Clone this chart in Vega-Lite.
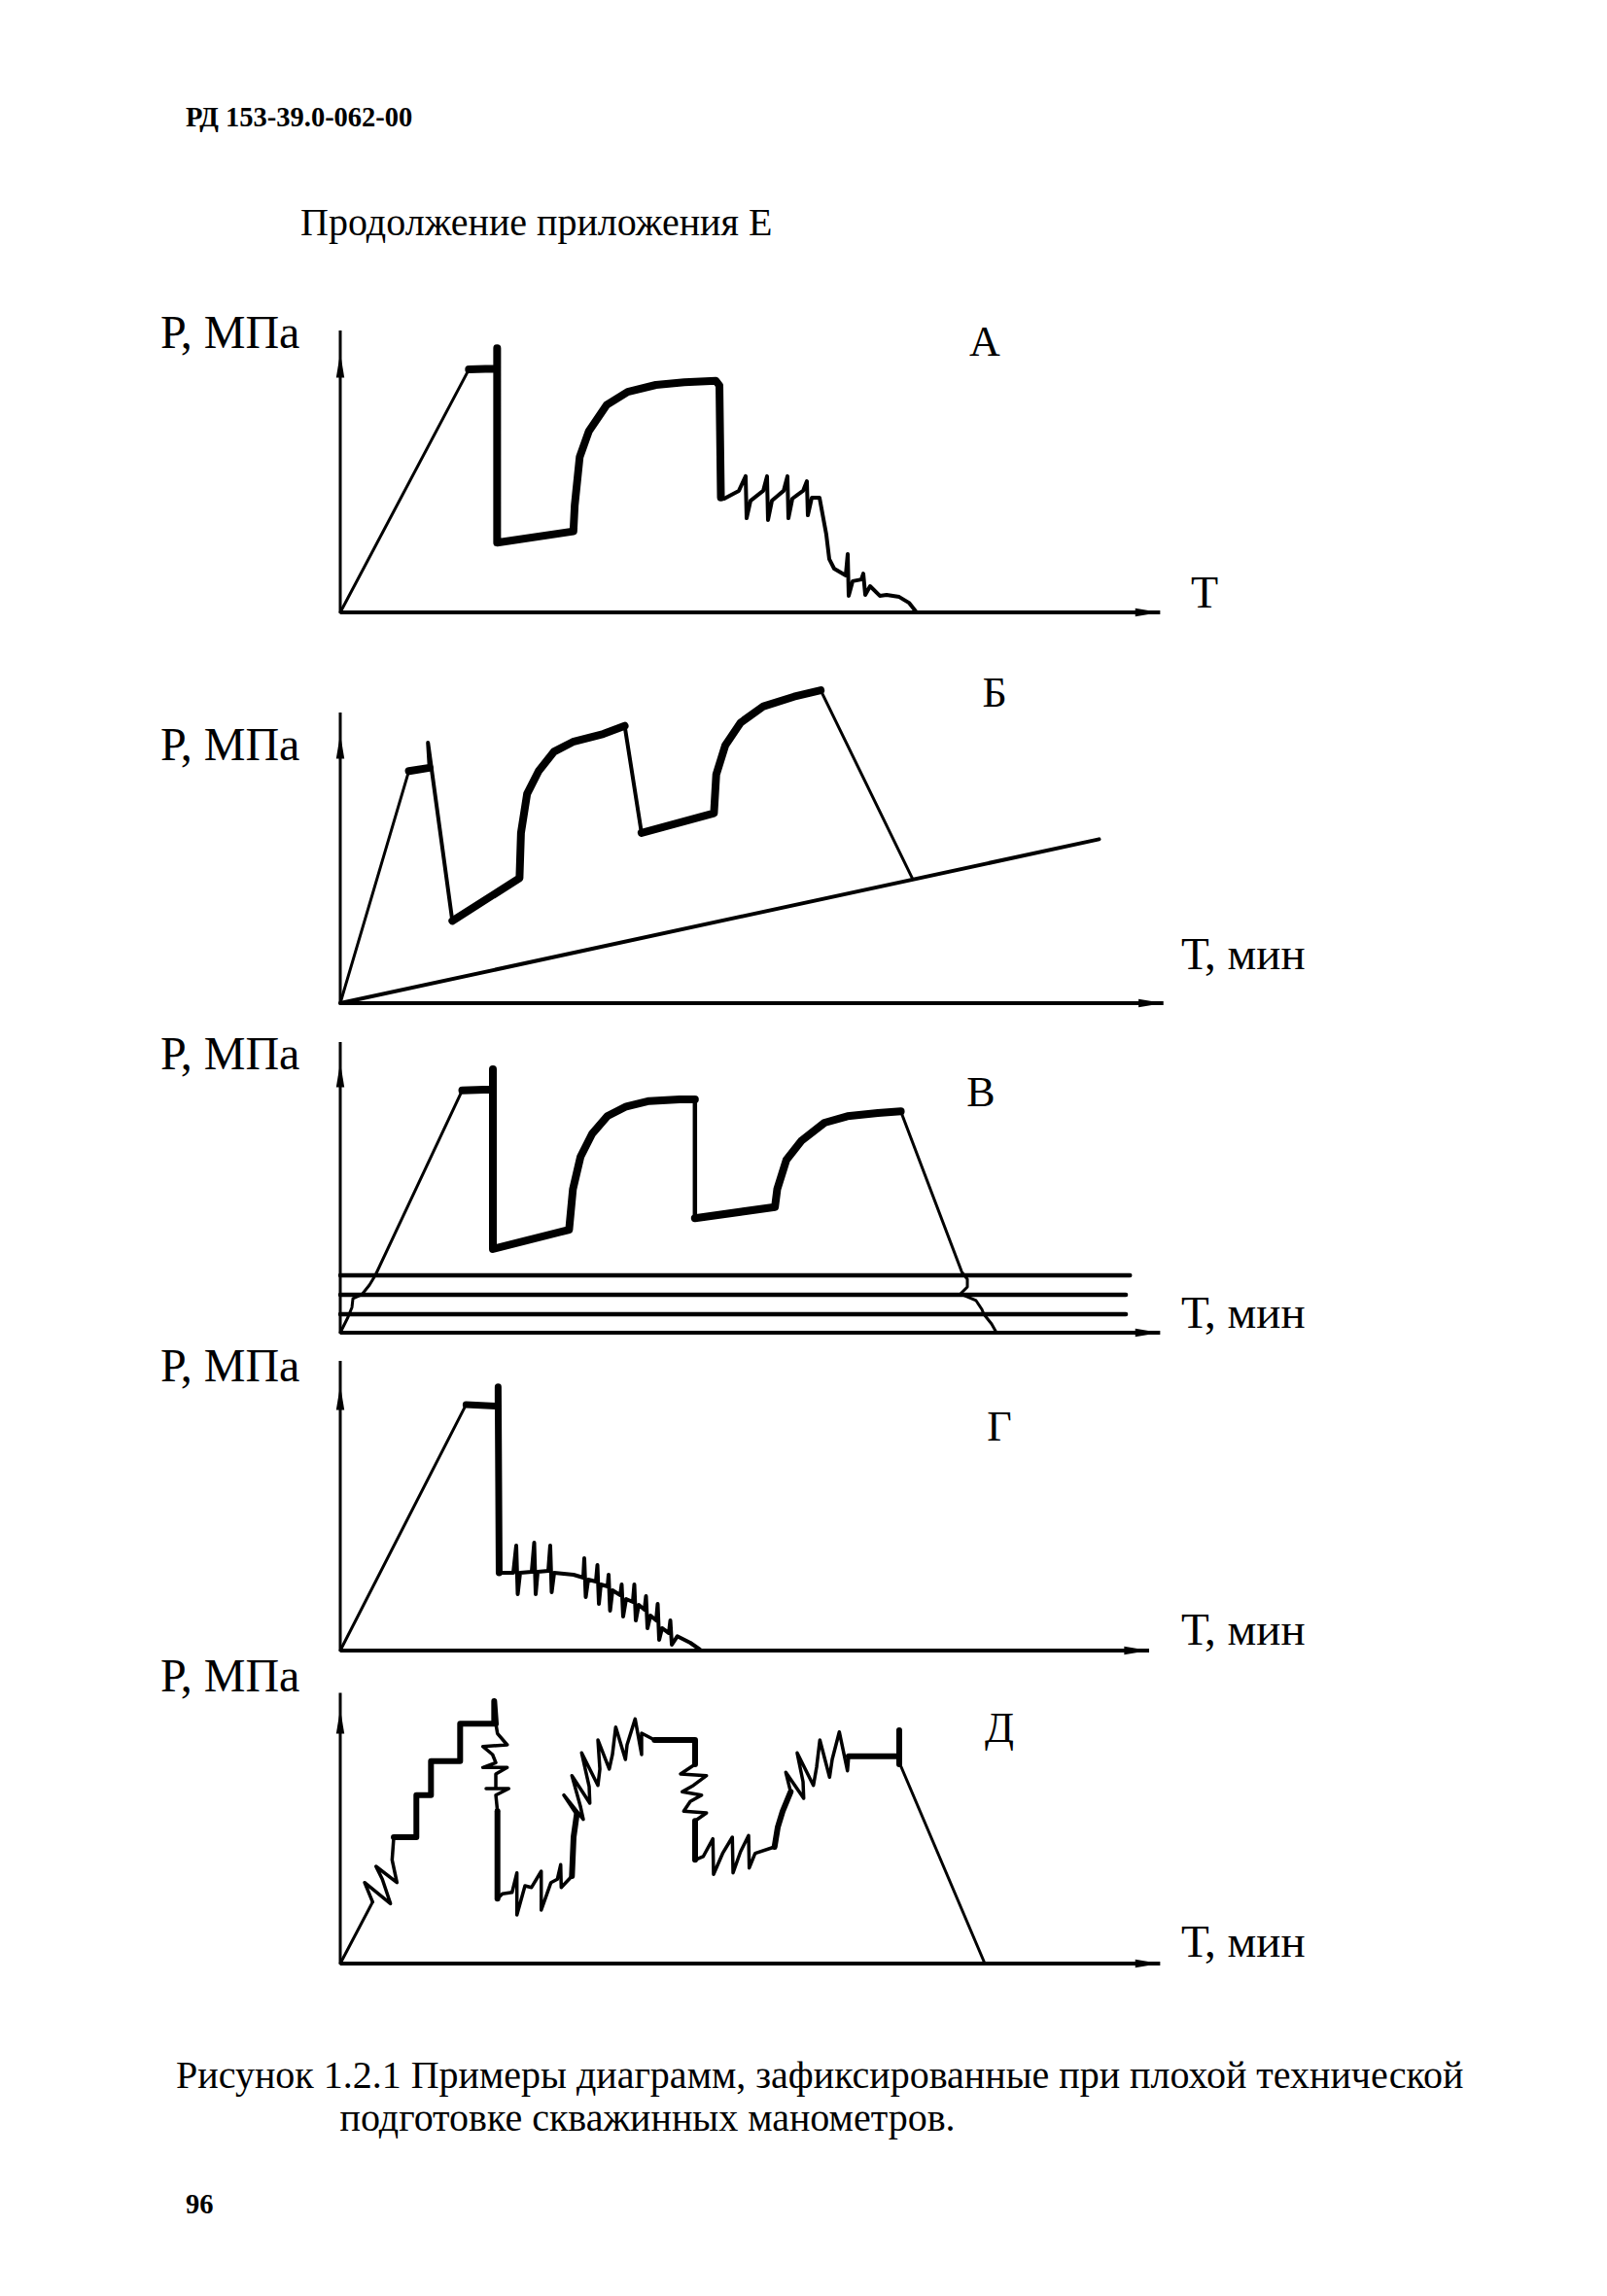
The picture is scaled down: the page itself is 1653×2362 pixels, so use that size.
{
"$schema": "https://vega.github.io/schema/vega-lite/v6.json",
"padding": 0,
"spacing": 0,
"bounds": "flush",
"background": "white",
"config": {"view": {"stroke": null}, "font": "Liberation Serif"},
"datasets": {
"curves": [
{"seg":"A1","i":0,"T":0,"P":0},{"seg":"A1","i":1,"T":15.75,"P":83.3},
{"seg":"A2","i":0,"T":15.75,"P":83.3},{"seg":"A2","i":1,"T":18.77,"P":83.6},{"seg":"A2","i":2,"T":19.21,"P":83.6},{"seg":"A2","i":3,"T":19.21,"P":90.6},{"seg":"A2","i":4,"T":19.21,"P":23.9},{"seg":"A2","i":5,"T":28.55,"P":27.8},{"seg":"A2","i":6,"T":28.71,"P":36.7},{"seg":"A2","i":7,"T":29.32,"P":53.3},{"seg":"A2","i":8,"T":30.45,"P":62.2},{"seg":"A2","i":9,"T":32.61,"P":71.1},{"seg":"A2","i":10,"T":35.2,"P":75.6},{"seg":"A2","i":11,"T":38.65,"P":78},{"seg":"A2","i":12,"T":42.12,"P":78.9},{"seg":"A2","i":13,"T":46,"P":79.4},{"seg":"A2","i":14,"T":46.43,"P":77.8},{"seg":"A2","i":15,"T":46.61,"P":39.4},
{"seg":"A3","i":0,"T":46.61,"P":39.4},{"seg":"A3","i":1,"T":47.02,"P":39},{"seg":"A3","i":2,"T":48.81,"P":41.7},{"seg":"A3","i":3,"T":49.64,"P":46.7},{"seg":"A3","i":4,"T":49.76,"P":32.3},{"seg":"A3","i":5,"T":50.24,"P":38.3},{"seg":"A3","i":6,"T":51.79,"P":41.7},{"seg":"A3","i":7,"T":52.26,"P":46.7},{"seg":"A3","i":8,"T":52.38,"P":31.7},{"seg":"A3","i":9,"T":52.86,"P":38.3},{"seg":"A3","i":10,"T":54.29,"P":41.7},{"seg":"A3","i":11,"T":54.76,"P":46.7},{"seg":"A3","i":12,"T":54.88,"P":32.3},{"seg":"A3","i":13,"T":55.36,"P":39},{"seg":"A3","i":14,"T":56.67,"P":41.7},{"seg":"A3","i":15,"T":57.14,"P":45},{"seg":"A3","i":16,"T":57.26,"P":33.3},{"seg":"A3","i":17,"T":57.74,"P":39.3},{"seg":"A3","i":18,"T":58.69,"P":39.3},{"seg":"A3","i":19,"T":59.52,"P":26.7},{"seg":"A3","i":20,"T":59.88,"P":18.3},{"seg":"A3","i":21,"T":60.48,"P":15},{"seg":"A3","i":22,"T":61.9,"P":12.7},{"seg":"A3","i":23,"T":62.14,"P":20},{"seg":"A3","i":24,"T":62.26,"P":5.7},{"seg":"A3","i":25,"T":62.74,"P":10.7},{"seg":"A3","i":26,"T":63.81,"P":11.3},{"seg":"A3","i":27,"T":64.05,"P":13.3},{"seg":"A3","i":28,"T":64.29,"P":6},{"seg":"A3","i":29,"T":64.88,"P":9},{"seg":"A3","i":30,"T":66.07,"P":5.7},{"seg":"A3","i":31,"T":66.9,"P":6},{"seg":"A3","i":32,"T":68.45,"P":5.3},{"seg":"A3","i":33,"T":69.64,"P":3.3},{"seg":"A3","i":34,"T":70.48,"P":0.3},
{"seg":"B1","i":0,"T":0,"P":0},{"seg":"B1","i":1,"T":8.4,"P":79.6},
{"seg":"B2","i":0,"T":8.4,"P":79.6},{"seg":"B2","i":1,"T":10.93,"P":80.7},
{"seg":"B3","i":0,"T":10.93,"P":80.7},{"seg":"B3","i":1,"T":10.74,"P":89.3},{"seg":"B3","i":2,"T":13.73,"P":28.2},
{"seg":"B4","i":0,"T":13.73,"P":28.2},{"seg":"B4","i":1,"T":21.95,"P":42.9},{"seg":"B4","i":2,"T":22.13,"P":58.4},{"seg":"B4","i":3,"T":22.88,"P":71.8},{"seg":"B4","i":4,"T":24.29,"P":79.6},{"seg":"B4","i":5,"T":26.15,"P":86.2},{"seg":"B4","i":6,"T":28.49,"P":89.6},{"seg":"B4","i":7,"T":32.21,"P":92.3},{"seg":"B4","i":8,"T":34.83,"P":95.1},
{"seg":"B5","i":0,"T":34.83,"P":95.1},{"seg":"B5","i":1,"T":36.89,"P":58.4},
{"seg":"B6","i":0,"T":36.89,"P":58.4},{"seg":"B6","i":1,"T":45.76,"P":65.1},{"seg":"B6","i":2,"T":46.04,"P":78.4},{"seg":"B6","i":3,"T":47.15,"P":88.4},{"seg":"B6","i":4,"T":49.02,"P":96.2},{"seg":"B6","i":5,"T":51.83,"P":101.8},{"seg":"B6","i":6,"T":55.56,"P":105.1},{"seg":"B6","i":7,"T":58.83,"P":107.3},
{"seg":"B7","i":0,"T":58.83,"P":107.3},{"seg":"B7","i":1,"T":70.04,"P":42.9},
{"seg":"B8","i":0,"T":0,"P":0},{"seg":"B8","i":1,"T":92.92,"P":56.2},
{"seg":"V1","i":0,"T":0,"P":0},{"seg":"V1","i":1,"T":0.95,"P":5.33},{"seg":"V1","i":2,"T":1.43,"P":8.67},{"seg":"V1","i":3,"T":1.55,"P":11.67},{"seg":"V1","i":4,"T":2.62,"P":13},{"seg":"V1","i":5,"T":3.57,"P":16.33},{"seg":"V1","i":6,"T":4.29,"P":19.67},{"seg":"V1","i":7,"T":14.94,"P":83.1},
{"seg":"V2","i":0,"T":14.94,"P":83.1},{"seg":"V2","i":1,"T":18.45,"P":83.4},{"seg":"V2","i":2,"T":18.69,"P":83.4},{"seg":"V2","i":3,"T":18.69,"P":90.33},{"seg":"V2","i":4,"T":18.69,"P":28.67},{"seg":"V2","i":5,"T":28.02,"P":35.33},{"seg":"V2","i":6,"T":28.49,"P":49.23},{"seg":"V2","i":7,"T":29.42,"P":60.33},{"seg":"V2","i":8,"T":30.82,"P":68.1},{"seg":"V2","i":9,"T":32.69,"P":74.23},{"seg":"V2","i":10,"T":35.02,"P":77.57},{"seg":"V2","i":11,"T":37.82,"P":79.43},{"seg":"V2","i":12,"T":41.56,"P":80},{"seg":"V2","i":13,"T":43.43,"P":80},
{"seg":"V3","i":0,"T":43.43,"P":80},{"seg":"V3","i":1,"T":43.43,"P":39.23},
{"seg":"V4","i":0,"T":43.43,"P":39.23},{"seg":"V4","i":1,"T":53.23,"P":43.1},{"seg":"V4","i":2,"T":53.51,"P":49.23},{"seg":"V4","i":3,"T":54.63,"P":59.23},{"seg":"V4","i":4,"T":56.5,"P":65.9},{"seg":"V4","i":5,"T":59.3,"P":72},{"seg":"V4","i":6,"T":62.1,"P":74.23},{"seg":"V4","i":7,"T":65.83,"P":75.33},{"seg":"V4","i":8,"T":68.64,"P":75.9},
{"seg":"V5","i":0,"T":68.64,"P":75.9},{"seg":"V5","i":1,"T":76.1,"P":20.9},{"seg":"V5","i":2,"T":76.79,"P":18.33},{"seg":"V5","i":3,"T":76.79,"P":15.67},{"seg":"V5","i":4,"T":75.95,"P":13.33},{"seg":"V5","i":5,"T":77.86,"P":11},{"seg":"V5","i":6,"T":78.57,"P":8},{"seg":"V5","i":7,"T":78.81,"P":6.33},{"seg":"V5","i":8,"T":79.76,"P":3},{"seg":"V5","i":9,"T":80.36,"P":0},
{"seg":"V6","i":0,"T":0,"P":19.67},{"seg":"V6","i":1,"T":96.7,"P":19.67},
{"seg":"V7","i":0,"T":0,"P":13},{"seg":"V7","i":1,"T":96.2,"P":13},
{"seg":"V8","i":0,"T":0,"P":6.33},{"seg":"V8","i":1,"T":96.2,"P":6.33},
{"seg":"G1","i":0,"T":0,"P":0},{"seg":"G1","i":1,"T":15.4,"P":84.3},
{"seg":"G2","i":0,"T":15.4,"P":84.3},{"seg":"G2","i":1,"T":19.14,"P":83.8},{"seg":"G2","i":2,"T":19.33,"P":83.8},{"seg":"G2","i":3,"T":19.33,"P":90.4},{"seg":"G2","i":4,"T":19.46,"P":26.7},
{"seg":"G3","i":0,"T":19.46,"P":26.7},{"seg":"G3","i":1,"T":21.19,"P":26.67},{"seg":"G3","i":2,"T":21.55,"P":36},{"seg":"G3","i":3,"T":21.73,"P":19.33},{"seg":"G3","i":4,"T":22.02,"P":26.67},{"seg":"G3","i":5,"T":23.45,"P":27},{"seg":"G3","i":6,"T":23.75,"P":37},{"seg":"G3","i":7,"T":23.93,"P":19.33},{"seg":"G3","i":8,"T":24.17,"P":27},{"seg":"G3","i":9,"T":25.48,"P":27.33},{"seg":"G3","i":10,"T":25.71,"P":36},{"seg":"G3","i":11,"T":25.89,"P":20},{"seg":"G3","i":12,"T":26.19,"P":26.67},{"seg":"G3","i":13,"T":28.57,"P":26},{"seg":"G3","i":14,"T":29.76,"P":25},{"seg":"G3","i":15,"T":29.88,"P":31.67},{"seg":"G3","i":16,"T":30.06,"P":18.33},{"seg":"G3","i":17,"T":30.36,"P":24.33},{"seg":"G3","i":18,"T":31.31,"P":23.67},{"seg":"G3","i":19,"T":31.49,"P":29.33},{"seg":"G3","i":20,"T":31.67,"P":16},{"seg":"G3","i":21,"T":31.9,"P":22.67},{"seg":"G3","i":22,"T":32.74,"P":22},{"seg":"G3","i":23,"T":32.86,"P":26},{"seg":"G3","i":24,"T":33.04,"P":13.67},{"seg":"G3","i":25,"T":33.33,"P":20.67},{"seg":"G3","i":26,"T":34.29,"P":19},{"seg":"G3","i":27,"T":34.46,"P":22.67},{"seg":"G3","i":28,"T":34.64,"P":11.67},{"seg":"G3","i":29,"T":35,"P":17.67},{"seg":"G3","i":30,"T":35.83,"P":16.67},{"seg":"G3","i":31,"T":36.01,"P":22.67},{"seg":"G3","i":32,"T":36.19,"P":10.33},{"seg":"G3","i":33,"T":36.55,"P":15.67},{"seg":"G3","i":34,"T":37.26,"P":14},{"seg":"G3","i":35,"T":37.44,"P":18.67},{"seg":"G3","i":36,"T":37.62,"P":7.67},{"seg":"G3","i":37,"T":37.98,"P":12},{"seg":"G3","i":38,"T":38.69,"P":10.33},{"seg":"G3","i":39,"T":38.87,"P":16},{"seg":"G3","i":40,"T":39.05,"P":3.67},{"seg":"G3","i":41,"T":39.4,"P":7.67},{"seg":"G3","i":42,"T":40.24,"P":6},{"seg":"G3","i":43,"T":40.42,"P":10.33},{"seg":"G3","i":44,"T":40.6,"P":2},{"seg":"G3","i":45,"T":41.27,"P":4.9},{"seg":"G3","i":46,"T":42.86,"P":2.67},{"seg":"G3","i":47,"T":44.05,"P":0.33},
{"seg":"D1","i":0,"T":0,"P":0},{"seg":"D1","i":1,"T":3.96,"P":21.1},
{"seg":"D2","i":0,"T":3.96,"P":21.1},{"seg":"D2","i":1,"T":2.98,"P":27.77},{"seg":"D2","i":2,"T":6.15,"P":20.57},{"seg":"D2","i":3,"T":5.15,"P":28.9},{"seg":"D2","i":4,"T":4.37,"P":33.33},{"seg":"D2","i":5,"T":6.94,"P":27.77},{"seg":"D2","i":6,"T":6.35,"P":35.57},{"seg":"D2","i":7,"T":6.55,"P":43.33},
{"seg":"D3","i":0,"T":6.55,"P":43.33},{"seg":"D3","i":1,"T":9.32,"P":43.33},{"seg":"D3","i":2,"T":9.32,"P":57.77},{"seg":"D3","i":3,"T":11.11,"P":57.77},{"seg":"D3","i":4,"T":11.11,"P":69.43},{"seg":"D3","i":5,"T":14.68,"P":69.43},{"seg":"D3","i":6,"T":14.68,"P":82.23},{"seg":"D3","i":7,"T":18.85,"P":82.23},{"seg":"D3","i":8,"T":18.85,"P":90},{"seg":"D3","i":9,"T":19.05,"P":82.23},
{"seg":"D4","i":0,"T":19.05,"P":82.23},{"seg":"D4","i":1,"T":19.25,"P":78.9},{"seg":"D4","i":2,"T":20.44,"P":75},{"seg":"D4","i":3,"T":17.46,"P":74.43},{"seg":"D4","i":4,"T":18.65,"P":71.67},{"seg":"D4","i":5,"T":19.05,"P":68.9},{"seg":"D4","i":6,"T":17.46,"P":67.23},{"seg":"D4","i":7,"T":20.44,"P":67.23},{"seg":"D4","i":8,"T":19.05,"P":65},{"seg":"D4","i":9,"T":19.05,"P":60},{"seg":"D4","i":10,"T":17.86,"P":60},{"seg":"D4","i":11,"T":20.63,"P":60},{"seg":"D4","i":12,"T":19.05,"P":57.77},{"seg":"D4","i":13,"T":19.25,"P":52.23},
{"seg":"D5","i":0,"T":19.25,"P":52.23},{"seg":"D5","i":1,"T":19.25,"P":22.23},
{"seg":"D6","i":0,"T":19.25,"P":22.23},{"seg":"D6","i":1,"T":19.85,"P":23.9},{"seg":"D6","i":2,"T":21.04,"P":24.43},{"seg":"D6","i":3,"T":21.63,"P":31.1},{"seg":"D6","i":4,"T":21.63,"P":16.67},{"seg":"D6","i":5,"T":22.62,"P":26.67},{"seg":"D6","i":6,"T":23.42,"P":26.1},{"seg":"D6","i":7,"T":24.61,"P":31.67},{"seg":"D6","i":8,"T":24.61,"P":18.33},{"seg":"D6","i":9,"T":25.8,"P":27.77},{"seg":"D6","i":10,"T":26.58,"P":28.9},{"seg":"D6","i":11,"T":26.99,"P":33.9},{"seg":"D6","i":12,"T":27.06,"P":26.1},{"seg":"D6","i":13,"T":28.37,"P":30},
{"seg":"D7","i":0,"T":28.37,"P":30},{"seg":"D7","i":1,"T":28.57,"P":43.33},{"seg":"D7","i":2,"T":28.96,"P":51.1},
{"seg":"D8","i":0,"T":28.96,"P":51.1},{"seg":"D8","i":1,"T":27.38,"P":57.77},{"seg":"D8","i":2,"T":29.76,"P":49.43},{"seg":"D8","i":3,"T":29.4,"P":54},{"seg":"D8","i":4,"T":28.37,"P":64.43},{"seg":"D8","i":5,"T":30.56,"P":55},{"seg":"D8","i":6,"T":30.48,"P":60.67},{"seg":"D8","i":7,"T":29.56,"P":72.23},{"seg":"D8","i":8,"T":31.55,"P":61.1},{"seg":"D8","i":9,"T":31.79,"P":66.67},{"seg":"D8","i":10,"T":31.55,"P":76.67},{"seg":"D8","i":11,"T":32.94,"P":66.67},{"seg":"D8","i":12,"T":33.33,"P":71.67},{"seg":"D8","i":13,"T":33.73,"P":81.1},{"seg":"D8","i":14,"T":34.92,"P":70},{"seg":"D8","i":15,"T":35.12,"P":75},{"seg":"D8","i":16,"T":36.11,"P":83.9},{"seg":"D8","i":17,"T":36.9,"P":71.67},{"seg":"D8","i":18,"T":36.9,"P":79},{"seg":"D8","i":19,"T":38.49,"P":76.67},
{"seg":"D9","i":0,"T":38.49,"P":76.67},{"seg":"D9","i":1,"T":43.45,"P":76.67},{"seg":"D9","i":2,"T":43.45,"P":68.33},
{"seg":"D10","i":0,"T":43.45,"P":68.33},{"seg":"D10","i":1,"T":41.67,"P":65},{"seg":"D10","i":2,"T":44.85,"P":64.43},{"seg":"D10","i":3,"T":43.25,"P":61.1},{"seg":"D10","i":4,"T":41.87,"P":58.9},{"seg":"D10","i":5,"T":44.25,"P":57.77},{"seg":"D10","i":6,"T":42.86,"P":55.57},{"seg":"D10","i":7,"T":42.06,"P":52.23},{"seg":"D10","i":8,"T":44.85,"P":51.67},{"seg":"D10","i":9,"T":43.45,"P":48.9},
{"seg":"D11","i":0,"T":43.45,"P":48.9},{"seg":"D11","i":1,"T":43.45,"P":35.57},
{"seg":"D12","i":0,"T":43.45,"P":35.57},{"seg":"D12","i":1,"T":44.44,"P":36.67},{"seg":"D12","i":2,"T":45.63,"P":42.77},{"seg":"D12","i":3,"T":45.71,"P":30.57},{"seg":"D12","i":4,"T":46.82,"P":37.77},{"seg":"D12","i":5,"T":48.01,"P":43.33},{"seg":"D12","i":6,"T":48.1,"P":31.1},{"seg":"D12","i":7,"T":49.01,"P":38.33},{"seg":"D12","i":8,"T":50,"P":43.9},{"seg":"D12","i":9,"T":50.08,"P":32.77},{"seg":"D12","i":10,"T":50.8,"P":37.77},{"seg":"D12","i":11,"T":53.18,"P":40},
{"seg":"D13","i":0,"T":53.18,"P":40},{"seg":"D13","i":1,"T":53.57,"P":46.67},{"seg":"D13","i":2,"T":54.17,"P":52.23},{"seg":"D13","i":3,"T":55.15,"P":58.9},
{"seg":"D14","i":0,"T":55.15,"P":58.9},{"seg":"D14","i":1,"T":54.56,"P":65.57},{"seg":"D14","i":2,"T":56.75,"P":56.67},{"seg":"D14","i":3,"T":56.67,"P":62.33},{"seg":"D14","i":4,"T":55.95,"P":72.23},{"seg":"D14","i":5,"T":57.94,"P":61.1},{"seg":"D14","i":6,"T":58.33,"P":67.33},{"seg":"D14","i":7,"T":58.73,"P":76.67},{"seg":"D14","i":8,"T":59.92,"P":63.9},{"seg":"D14","i":9,"T":60.24,"P":70},{"seg":"D14","i":10,"T":61.11,"P":79.43},{"seg":"D14","i":11,"T":62.11,"P":66.1},{"seg":"D14","i":12,"T":62.26,"P":71.1},
{"seg":"D15","i":0,"T":62.26,"P":71.1},{"seg":"D15","i":1,"T":68.25,"P":71.1},{"seg":"D15","i":2,"T":68.45,"P":71.1},{"seg":"D15","i":3,"T":68.45,"P":80},{"seg":"D15","i":4,"T":68.45,"P":68.33},
{"seg":"D16","i":0,"T":68.45,"P":69},{"seg":"D16","i":1,"T":78.93,"P":0}
]
},
"vconcat": [
{
"width": 1653, "height": 290,
"data": {"values": [{}]},
"layer": [
{"mark": {"type": "text", "text": "РД 153-39.0-062-00", "font": "Liberation Serif", "fontWeight": "bold", "fontSize": 28.5, "align": "left", "baseline": "alphabetic", "color": "black"},
 "encoding": {"x": {"datum": 11.55, "type": "quantitative", "scale": {"domain": [0, 100], "nice": false, "zero": false}, "axis": null}, "y": {"datum": 55.17, "type": "quantitative", "scale": {"domain": [0, 100], "nice": false, "zero": false}, "axis": null}}},
{"mark": {"type": "text", "text": "Продолжение приложения Е", "font": "Liberation Serif", "fontSize": 40, "align": "left", "baseline": "alphabetic", "color": "black"},
 "encoding": {"x": {"datum": 18.7, "type": "quantitative", "scale": {"domain": [0, 100], "nice": false, "zero": false}, "axis": null}, "y": {"datum": 16.55, "type": "quantitative", "scale": {"domain": [0, 100], "nice": false, "zero": false}, "axis": null}}}
]
},
{
"width": 1653, "height": 375,
"layer": [
{"data": {"name": "curves"}, "transform": [{"filter": {"field": "seg", "oneOf": ["A1"]}}],
 "mark": {"type": "line", "strokeWidth": 3, "color": "black", "strokeCap": "round", "strokeJoin": "round"},
 "encoding": {"x": {"field": "T", "type": "quantitative", "scale": {"domain": [-41.667, 155.119], "nice": false, "zero": false}, "axis": null}, "y": {"field": "P", "type": "quantitative", "scale": {"domain": [-11.667, 113.333], "nice": false, "zero": false}, "axis": null}, "detail": {"field": "seg"}, "order": {"field": "i", "type": "quantitative"}}},
{"data": {"name": "curves"}, "transform": [{"filter": {"field": "seg", "oneOf": ["A3"]}}],
 "mark": {"type": "line", "strokeWidth": 4, "color": "black", "strokeCap": "round", "strokeJoin": "round"},
 "encoding": {"x": {"field": "T", "type": "quantitative", "scale": {"domain": [-41.667, 155.119], "nice": false, "zero": false}, "axis": null}, "y": {"field": "P", "type": "quantitative", "scale": {"domain": [-11.667, 113.333], "nice": false, "zero": false}, "axis": null}, "detail": {"field": "seg"}, "order": {"field": "i", "type": "quantitative"}}},
{"data": {"name": "curves"}, "transform": [{"filter": {"field": "seg", "oneOf": ["A2"]}}],
 "mark": {"type": "line", "strokeWidth": 8, "color": "black", "strokeCap": "round", "strokeJoin": "round"},
 "encoding": {"x": {"field": "T", "type": "quantitative", "scale": {"domain": [-41.667, 155.119], "nice": false, "zero": false}, "axis": null}, "y": {"field": "P", "type": "quantitative", "scale": {"domain": [-11.667, 113.333], "nice": false, "zero": false}, "axis": null}, "detail": {"field": "seg"}, "order": {"field": "i", "type": "quantitative"}}},
{"data": {"values": [{}]}, "mark": {"type": "rule", "strokeWidth": 3, "color": "black"},
 "encoding": {"x": {"datum": 0, "type": "quantitative", "scale": {"domain": [-41.667, 155.119], "nice": false, "zero": false}, "axis": null}, "y": {"datum": 0, "type": "quantitative", "scale": {"domain": [-11.667, 113.333], "nice": false, "zero": false}, "axis": null}, "y2": {"datum": 96.7}}},
{"data": {"values": [{}]}, "mark": {"type": "rule", "strokeWidth": 4, "color": "black"},
 "encoding": {"x": {"datum": 0, "type": "quantitative", "scale": {"domain": [-41.667, 155.119], "nice": false, "zero": false}, "axis": null}, "x2": {"datum": 100.4}, "y": {"datum": 0, "type": "quantitative", "scale": {"domain": [-11.667, 113.333], "nice": false, "zero": false}, "axis": null}}},
{"data": {"values": [{}]}, "mark": {"type": "point", "shape": "M0,-1L0.28,0.7L-0.28,0.7Z", "size": 900, "filled": true, "color": "black", "opacity": 1},
 "encoding": {"x": {"datum": 0, "type": "quantitative", "scale": {"domain": [-41.667, 155.119], "nice": false, "zero": false}, "axis": null}, "y": {"datum": 84, "type": "quantitative", "scale": {"domain": [-11.667, 113.333], "nice": false, "zero": false}, "axis": null}}},
{"data": {"values": [{}]}, "mark": {"type": "point", "shape": "M1,0L-0.7,0.28L-0.7,-0.28Z", "size": 900, "filled": true, "color": "black", "opacity": 1},
 "encoding": {"x": {"datum": 98.6, "type": "quantitative", "scale": {"domain": [-41.667, 155.119], "nice": false, "zero": false}, "axis": null}, "y": {"datum": 0, "type": "quantitative", "scale": {"domain": [-11.667, 113.333], "nice": false, "zero": false}, "axis": null}}},
{"data": {"values": [{}]}, "mark": {"type": "text", "text": "Р, МПа", "font": "Liberation Serif", "fontSize": 48, "align": "left", "baseline": "alphabetic", "color": "black"},
 "encoding": {"x": {"datum": -22.02, "type": "quantitative", "scale": {"domain": [-41.667, 155.119], "nice": false, "zero": false}, "axis": null}, "y": {"datum": 90.67, "type": "quantitative", "scale": {"domain": [-11.667, 113.333], "nice": false, "zero": false}, "axis": null}}},
{"data": {"values": [{}]}, "mark": {"type": "text", "text": "А", "font": "Liberation Serif", "fontSize": 44, "align": "center", "baseline": "alphabetic", "color": "black"},
 "encoding": {"x": {"datum": 78.93, "type": "quantitative", "scale": {"domain": [-41.667, 155.119], "nice": false, "zero": false}, "axis": null}, "y": {"datum": 88, "type": "quantitative", "scale": {"domain": [-11.667, 113.333], "nice": false, "zero": false}, "axis": null}}},
{"data": {"values": [{}]}, "mark": {"type": "text", "text": "Т", "font": "Liberation Serif", "fontSize": 46, "align": "left", "baseline": "alphabetic", "color": "black"},
 "encoding": {"x": {"datum": 104.17, "type": "quantitative", "scale": {"domain": [-41.667, 155.119], "nice": false, "zero": false}, "axis": null}, "y": {"datum": 1.67, "type": "quantitative", "scale": {"domain": [-11.667, 113.333], "nice": false, "zero": false}, "axis": null}}}
]
},
{
"width": 1653, "height": 385,
"layer": [
{"data": {"name": "curves"}, "transform": [{"filter": {"field": "seg", "oneOf": ["B1", "B7"]}}],
 "mark": {"type": "line", "strokeWidth": 3, "color": "black", "strokeCap": "round", "strokeJoin": "round"},
 "encoding": {"x": {"field": "T", "type": "quantitative", "scale": {"domain": [-41.667, 155.119], "nice": false, "zero": false}, "axis": null}, "y": {"field": "P", "type": "quantitative", "scale": {"domain": [-6, 122.333], "nice": false, "zero": false}, "axis": null}, "detail": {"field": "seg"}, "order": {"field": "i", "type": "quantitative"}}},
{"data": {"name": "curves"}, "transform": [{"filter": {"field": "seg", "oneOf": ["B3", "B5", "B8"]}}],
 "mark": {"type": "line", "strokeWidth": 4, "color": "black", "strokeCap": "round", "strokeJoin": "round"},
 "encoding": {"x": {"field": "T", "type": "quantitative", "scale": {"domain": [-41.667, 155.119], "nice": false, "zero": false}, "axis": null}, "y": {"field": "P", "type": "quantitative", "scale": {"domain": [-6, 122.333], "nice": false, "zero": false}, "axis": null}, "detail": {"field": "seg"}, "order": {"field": "i", "type": "quantitative"}}},
{"data": {"name": "curves"}, "transform": [{"filter": {"field": "seg", "oneOf": ["B2", "B4", "B6"]}}],
 "mark": {"type": "line", "strokeWidth": 8, "color": "black", "strokeCap": "round", "strokeJoin": "round"},
 "encoding": {"x": {"field": "T", "type": "quantitative", "scale": {"domain": [-41.667, 155.119], "nice": false, "zero": false}, "axis": null}, "y": {"field": "P", "type": "quantitative", "scale": {"domain": [-6, 122.333], "nice": false, "zero": false}, "axis": null}, "detail": {"field": "seg"}, "order": {"field": "i", "type": "quantitative"}}},
{"data": {"values": [{}]}, "mark": {"type": "rule", "strokeWidth": 3, "color": "black"},
 "encoding": {"x": {"datum": 0, "type": "quantitative", "scale": {"domain": [-41.667, 155.119], "nice": false, "zero": false}, "axis": null}, "y": {"datum": 0, "type": "quantitative", "scale": {"domain": [-6, 122.333], "nice": false, "zero": false}, "axis": null}, "y2": {"datum": 99.7}}},
{"data": {"values": [{}]}, "mark": {"type": "rule", "strokeWidth": 4, "color": "black"},
 "encoding": {"x": {"datum": 0, "type": "quantitative", "scale": {"domain": [-41.667, 155.119], "nice": false, "zero": false}, "axis": null}, "x2": {"datum": 100.8}, "y": {"datum": 0, "type": "quantitative", "scale": {"domain": [-6, 122.333], "nice": false, "zero": false}, "axis": null}}},
{"data": {"values": [{}]}, "mark": {"type": "point", "shape": "M0,-1L0.28,0.7L-0.28,0.7Z", "size": 900, "filled": true, "color": "black", "opacity": 1},
 "encoding": {"x": {"datum": 0, "type": "quantitative", "scale": {"domain": [-41.667, 155.119], "nice": false, "zero": false}, "axis": null}, "y": {"datum": 87.3, "type": "quantitative", "scale": {"domain": [-6, 122.333], "nice": false, "zero": false}, "axis": null}}},
{"data": {"values": [{}]}, "mark": {"type": "point", "shape": "M1,0L-0.7,0.28L-0.7,-0.28Z", "size": 900, "filled": true, "color": "black", "opacity": 1},
 "encoding": {"x": {"datum": 99.0, "type": "quantitative", "scale": {"domain": [-41.667, 155.119], "nice": false, "zero": false}, "axis": null}, "y": {"datum": 0, "type": "quantitative", "scale": {"domain": [-6, 122.333], "nice": false, "zero": false}, "axis": null}}},
{"data": {"values": [{}]}, "mark": {"type": "text", "text": "Р, МПа", "font": "Liberation Serif", "fontSize": 48, "align": "left", "baseline": "alphabetic", "color": "black"},
 "encoding": {"x": {"datum": -22.02, "type": "quantitative", "scale": {"domain": [-41.667, 155.119], "nice": false, "zero": false}, "axis": null}, "y": {"datum": 83.33, "type": "quantitative", "scale": {"domain": [-6, 122.333], "nice": false, "zero": false}, "axis": null}}},
{"data": {"values": [{}]}, "mark": {"type": "text", "text": "Б", "font": "Liberation Serif", "fontSize": 44, "align": "center", "baseline": "alphabetic", "color": "black"},
 "encoding": {"x": {"datum": 80.12, "type": "quantitative", "scale": {"domain": [-41.667, 155.119], "nice": false, "zero": false}, "axis": null}, "y": {"datum": 101.67, "type": "quantitative", "scale": {"domain": [-6, 122.333], "nice": false, "zero": false}, "axis": null}}},
{"data": {"values": [{}]}, "mark": {"type": "text", "text": "Т, мин", "font": "Liberation Serif", "fontSize": 47, "align": "left", "baseline": "alphabetic", "color": "black"},
 "encoding": {"x": {"datum": 102.98, "type": "quantitative", "scale": {"domain": [-41.667, 155.119], "nice": false, "zero": false}, "axis": null}, "y": {"datum": 11.67, "type": "quantitative", "scale": {"domain": [-6, 122.333], "nice": false, "zero": false}, "axis": null}}}
]
},
{
"width": 1653, "height": 338,
"layer": [
{"data": {"name": "curves"}, "transform": [{"filter": {"field": "seg", "oneOf": ["V1", "V5"]}}],
 "mark": {"type": "line", "strokeWidth": 3, "color": "black", "strokeCap": "round", "strokeJoin": "round"},
 "encoding": {"x": {"field": "T", "type": "quantitative", "scale": {"domain": [-41.667, 155.119], "nice": false, "zero": false}, "axis": null}, "y": {"field": "P", "type": "quantitative", "scale": {"domain": [-5.667, 107], "nice": false, "zero": false}, "axis": null}, "detail": {"field": "seg"}, "order": {"field": "i", "type": "quantitative"}}},
{"data": {"name": "curves"}, "transform": [{"filter": {"field": "seg", "oneOf": ["V3", "V6", "V7", "V8"]}}],
 "mark": {"type": "line", "strokeWidth": 4.5, "color": "black", "strokeCap": "round", "strokeJoin": "round"},
 "encoding": {"x": {"field": "T", "type": "quantitative", "scale": {"domain": [-41.667, 155.119], "nice": false, "zero": false}, "axis": null}, "y": {"field": "P", "type": "quantitative", "scale": {"domain": [-5.667, 107], "nice": false, "zero": false}, "axis": null}, "detail": {"field": "seg"}, "order": {"field": "i", "type": "quantitative"}}},
{"data": {"name": "curves"}, "transform": [{"filter": {"field": "seg", "oneOf": ["V2", "V4"]}}],
 "mark": {"type": "line", "strokeWidth": 8, "color": "black", "strokeCap": "round", "strokeJoin": "round"},
 "encoding": {"x": {"field": "T", "type": "quantitative", "scale": {"domain": [-41.667, 155.119], "nice": false, "zero": false}, "axis": null}, "y": {"field": "P", "type": "quantitative", "scale": {"domain": [-5.667, 107], "nice": false, "zero": false}, "axis": null}, "detail": {"field": "seg"}, "order": {"field": "i", "type": "quantitative"}}},
{"data": {"values": [{}]}, "mark": {"type": "rule", "strokeWidth": 3, "color": "black"},
 "encoding": {"x": {"datum": 0, "type": "quantitative", "scale": {"domain": [-41.667, 155.119], "nice": false, "zero": false}, "axis": null}, "y": {"datum": 0, "type": "quantitative", "scale": {"domain": [-5.667, 107], "nice": false, "zero": false}, "axis": null}, "y2": {"datum": 99.7}}},
{"data": {"values": [{}]}, "mark": {"type": "rule", "strokeWidth": 4, "color": "black"},
 "encoding": {"x": {"datum": 0, "type": "quantitative", "scale": {"domain": [-41.667, 155.119], "nice": false, "zero": false}, "axis": null}, "x2": {"datum": 100.4}, "y": {"datum": 0, "type": "quantitative", "scale": {"domain": [-5.667, 107], "nice": false, "zero": false}, "axis": null}}},
{"data": {"values": [{}]}, "mark": {"type": "point", "shape": "M0,-1L0.28,0.7L-0.28,0.7Z", "size": 900, "filled": true, "color": "black", "opacity": 1},
 "encoding": {"x": {"datum": 0, "type": "quantitative", "scale": {"domain": [-41.667, 155.119], "nice": false, "zero": false}, "axis": null}, "y": {"datum": 87.7, "type": "quantitative", "scale": {"domain": [-5.667, 107], "nice": false, "zero": false}, "axis": null}}},
{"data": {"values": [{}]}, "mark": {"type": "point", "shape": "M1,0L-0.7,0.28L-0.7,-0.28Z", "size": 900, "filled": true, "color": "black", "opacity": 1},
 "encoding": {"x": {"datum": 98.6, "type": "quantitative", "scale": {"domain": [-41.667, 155.119], "nice": false, "zero": false}, "axis": null}, "y": {"datum": 0, "type": "quantitative", "scale": {"domain": [-5.667, 107], "nice": false, "zero": false}, "axis": null}}},
{"data": {"values": [{}]}, "mark": {"type": "text", "text": "Р, МПа", "font": "Liberation Serif", "fontSize": 48, "align": "left", "baseline": "alphabetic", "color": "black"},
 "encoding": {"x": {"datum": -22.02, "type": "quantitative", "scale": {"domain": [-41.667, 155.119], "nice": false, "zero": false}, "axis": null}, "y": {"datum": 90.33, "type": "quantitative", "scale": {"domain": [-5.667, 107], "nice": false, "zero": false}, "axis": null}}},
{"data": {"values": [{}]}, "mark": {"type": "text", "text": "В", "font": "Liberation Serif", "fontSize": 44, "align": "center", "baseline": "alphabetic", "color": "black"},
 "encoding": {"x": {"datum": 78.45, "type": "quantitative", "scale": {"domain": [-41.667, 155.119], "nice": false, "zero": false}, "axis": null}, "y": {"datum": 77.67, "type": "quantitative", "scale": {"domain": [-5.667, 107], "nice": false, "zero": false}, "axis": null}}},
{"data": {"values": [{}]}, "mark": {"type": "text", "text": "Т, мин", "font": "Liberation Serif", "fontSize": 47, "align": "left", "baseline": "alphabetic", "color": "black"},
 "encoding": {"x": {"datum": 102.98, "type": "quantitative", "scale": {"domain": [-41.667, 155.119], "nice": false, "zero": false}, "axis": null}, "y": {"datum": 1.67, "type": "quantitative", "scale": {"domain": [-5.667, 107], "nice": false, "zero": false}, "axis": null}}}
]
},
{
"width": 1653, "height": 320,
"layer": [
{"data": {"name": "curves"}, "transform": [{"filter": {"field": "seg", "oneOf": ["G1"]}}],
 "mark": {"type": "line", "strokeWidth": 3, "color": "black", "strokeCap": "round", "strokeJoin": "round"},
 "encoding": {"x": {"field": "T", "type": "quantitative", "scale": {"domain": [-41.667, 155.119], "nice": false, "zero": false}, "axis": null}, "y": {"field": "P", "type": "quantitative", "scale": {"domain": [-3.333, 103.333], "nice": false, "zero": false}, "axis": null}, "detail": {"field": "seg"}, "order": {"field": "i", "type": "quantitative"}}},
{"data": {"name": "curves"}, "transform": [{"filter": {"field": "seg", "oneOf": ["G3"]}}],
 "mark": {"type": "line", "strokeWidth": 4, "color": "black", "strokeCap": "round", "strokeJoin": "round"},
 "encoding": {"x": {"field": "T", "type": "quantitative", "scale": {"domain": [-41.667, 155.119], "nice": false, "zero": false}, "axis": null}, "y": {"field": "P", "type": "quantitative", "scale": {"domain": [-3.333, 103.333], "nice": false, "zero": false}, "axis": null}, "detail": {"field": "seg"}, "order": {"field": "i", "type": "quantitative"}}},
{"data": {"name": "curves"}, "transform": [{"filter": {"field": "seg", "oneOf": ["G2"]}}],
 "mark": {"type": "line", "strokeWidth": 7, "color": "black", "strokeCap": "round", "strokeJoin": "round"},
 "encoding": {"x": {"field": "T", "type": "quantitative", "scale": {"domain": [-41.667, 155.119], "nice": false, "zero": false}, "axis": null}, "y": {"field": "P", "type": "quantitative", "scale": {"domain": [-3.333, 103.333], "nice": false, "zero": false}, "axis": null}, "detail": {"field": "seg"}, "order": {"field": "i", "type": "quantitative"}}},
{"data": {"values": [{}]}, "mark": {"type": "rule", "strokeWidth": 3, "color": "black"},
 "encoding": {"x": {"datum": 0, "type": "quantitative", "scale": {"domain": [-41.667, 155.119], "nice": false, "zero": false}, "axis": null}, "y": {"datum": 0, "type": "quantitative", "scale": {"domain": [-3.333, 103.333], "nice": false, "zero": false}, "axis": null}, "y2": {"datum": 99.3}}},
{"data": {"values": [{}]}, "mark": {"type": "rule", "strokeWidth": 4, "color": "black"},
 "encoding": {"x": {"datum": 0, "type": "quantitative", "scale": {"domain": [-41.667, 155.119], "nice": false, "zero": false}, "axis": null}, "x2": {"datum": 99.05}, "y": {"datum": 0, "type": "quantitative", "scale": {"domain": [-3.333, 103.333], "nice": false, "zero": false}, "axis": null}}},
{"data": {"values": [{}]}, "mark": {"type": "point", "shape": "M0,-1L0.28,0.7L-0.28,0.7Z", "size": 900, "filled": true, "color": "black", "opacity": 1},
 "encoding": {"x": {"datum": 0, "type": "quantitative", "scale": {"domain": [-41.667, 155.119], "nice": false, "zero": false}, "axis": null}, "y": {"datum": 86, "type": "quantitative", "scale": {"domain": [-3.333, 103.333], "nice": false, "zero": false}, "axis": null}}},
{"data": {"values": [{}]}, "mark": {"type": "point", "shape": "M1,0L-0.7,0.28L-0.7,-0.28Z", "size": 900, "filled": true, "color": "black", "opacity": 1},
 "encoding": {"x": {"datum": 97.25, "type": "quantitative", "scale": {"domain": [-41.667, 155.119], "nice": false, "zero": false}, "axis": null}, "y": {"datum": 0, "type": "quantitative", "scale": {"domain": [-3.333, 103.333], "nice": false, "zero": false}, "axis": null}}},
{"data": {"values": [{}]}, "mark": {"type": "text", "text": "Р, МПа", "font": "Liberation Serif", "fontSize": 48, "align": "left", "baseline": "alphabetic", "color": "black"},
 "encoding": {"x": {"datum": -22.02, "type": "quantitative", "scale": {"domain": [-41.667, 155.119], "nice": false, "zero": false}, "axis": null}, "y": {"datum": 92.33, "type": "quantitative", "scale": {"domain": [-3.333, 103.333], "nice": false, "zero": false}, "axis": null}}},
{"data": {"values": [{}]}, "mark": {"type": "text", "text": "Г", "font": "Liberation Serif", "fontSize": 44, "align": "center", "baseline": "alphabetic", "color": "black"},
 "encoding": {"x": {"datum": 80.71, "type": "quantitative", "scale": {"domain": [-41.667, 155.119], "nice": false, "zero": false}, "axis": null}, "y": {"datum": 72, "type": "quantitative", "scale": {"domain": [-3.333, 103.333], "nice": false, "zero": false}, "axis": null}}},
{"data": {"values": [{}]}, "mark": {"type": "text", "text": "Т, мин", "font": "Liberation Serif", "fontSize": 47, "align": "left", "baseline": "alphabetic", "color": "black"},
 "encoding": {"x": {"datum": 102.98, "type": "quantitative", "scale": {"domain": [-41.667, 155.119], "nice": false, "zero": false}, "axis": null}, "y": {"datum": 2, "type": "quantitative", "scale": {"domain": [-3.333, 103.333], "nice": false, "zero": false}, "axis": null}}}
]
},
{
"width": 1653, "height": 362,
"layer": [
{"data": {"name": "curves"}, "transform": [{"filter": {"field": "seg", "oneOf": ["D1", "D16"]}}],
 "mark": {"type": "line", "strokeWidth": 3, "color": "black", "strokeCap": "round", "strokeJoin": "round"},
 "encoding": {"x": {"field": "T", "type": "quantitative", "scale": {"domain": [-41.667, 155.119], "nice": false, "zero": false}, "axis": null}, "y": {"field": "P", "type": "quantitative", "scale": {"domain": [-16.667, 104], "nice": false, "zero": false}, "axis": null}, "detail": {"field": "seg"}, "order": {"field": "i", "type": "quantitative"}}},
{"data": {"name": "curves"}, "transform": [{"filter": {"field": "seg", "oneOf": ["D2", "D4", "D6", "D8", "D10", "D12", "D14"]}}],
 "mark": {"type": "line", "strokeWidth": 3.5, "color": "black", "strokeCap": "round", "strokeJoin": "round"},
 "encoding": {"x": {"field": "T", "type": "quantitative", "scale": {"domain": [-41.667, 155.119], "nice": false, "zero": false}, "axis": null}, "y": {"field": "P", "type": "quantitative", "scale": {"domain": [-16.667, 104], "nice": false, "zero": false}, "axis": null}, "detail": {"field": "seg"}, "order": {"field": "i", "type": "quantitative"}}},
{"data": {"name": "curves"}, "transform": [{"filter": {"field": "seg", "oneOf": ["D3", "D5", "D7", "D9", "D11", "D13", "D15"]}}],
 "mark": {"type": "line", "strokeWidth": 6, "color": "black", "strokeCap": "round", "strokeJoin": "round"},
 "encoding": {"x": {"field": "T", "type": "quantitative", "scale": {"domain": [-41.667, 155.119], "nice": false, "zero": false}, "axis": null}, "y": {"field": "P", "type": "quantitative", "scale": {"domain": [-16.667, 104], "nice": false, "zero": false}, "axis": null}, "detail": {"field": "seg"}, "order": {"field": "i", "type": "quantitative"}}},
{"data": {"values": [{}]}, "mark": {"type": "rule", "strokeWidth": 3, "color": "black"},
 "encoding": {"x": {"datum": 0, "type": "quantitative", "scale": {"domain": [-41.667, 155.119], "nice": false, "zero": false}, "axis": null}, "y": {"datum": 0, "type": "quantitative", "scale": {"domain": [-16.667, 104], "nice": false, "zero": false}, "axis": null}, "y2": {"datum": 92.8}}},
{"data": {"values": [{}]}, "mark": {"type": "rule", "strokeWidth": 4, "color": "black"},
 "encoding": {"x": {"datum": 0, "type": "quantitative", "scale": {"domain": [-41.667, 155.119], "nice": false, "zero": false}, "axis": null}, "x2": {"datum": 100.4}, "y": {"datum": 0, "type": "quantitative", "scale": {"domain": [-16.667, 104], "nice": false, "zero": false}, "axis": null}}},
{"data": {"values": [{}]}, "mark": {"type": "point", "shape": "M0,-1L0.28,0.7L-0.28,0.7Z", "size": 900, "filled": true, "color": "black", "opacity": 1},
 "encoding": {"x": {"datum": 0, "type": "quantitative", "scale": {"domain": [-41.667, 155.119], "nice": false, "zero": false}, "axis": null}, "y": {"datum": 82.3, "type": "quantitative", "scale": {"domain": [-16.667, 104], "nice": false, "zero": false}, "axis": null}}},
{"data": {"values": [{}]}, "mark": {"type": "point", "shape": "M1,0L-0.7,0.28L-0.7,-0.28Z", "size": 900, "filled": true, "color": "black", "opacity": 1},
 "encoding": {"x": {"datum": 98.6, "type": "quantitative", "scale": {"domain": [-41.667, 155.119], "nice": false, "zero": false}, "axis": null}, "y": {"datum": 0, "type": "quantitative", "scale": {"domain": [-16.667, 104], "nice": false, "zero": false}, "axis": null}}},
{"data": {"values": [{}]}, "mark": {"type": "text", "text": "Р, МПа", "font": "Liberation Serif", "fontSize": 48, "align": "left", "baseline": "alphabetic", "color": "black"},
 "encoding": {"x": {"datum": -22.02, "type": "quantitative", "scale": {"domain": [-41.667, 155.119], "nice": false, "zero": false}, "axis": null}, "y": {"datum": 93.33, "type": "quantitative", "scale": {"domain": [-16.667, 104], "nice": false, "zero": false}, "axis": null}}},
{"data": {"values": [{}]}, "mark": {"type": "text", "text": "Д", "font": "Liberation Serif", "fontSize": 44, "align": "center", "baseline": "alphabetic", "color": "black"},
 "encoding": {"x": {"datum": 80.71, "type": "quantitative", "scale": {"domain": [-41.667, 155.119], "nice": false, "zero": false}, "axis": null}, "y": {"datum": 76, "type": "quantitative", "scale": {"domain": [-16.667, 104], "nice": false, "zero": false}, "axis": null}}},
{"data": {"values": [{}]}, "mark": {"type": "text", "text": "Т, мин", "font": "Liberation Serif", "fontSize": 47, "align": "left", "baseline": "alphabetic", "color": "black"},
 "encoding": {"x": {"datum": 102.98, "type": "quantitative", "scale": {"domain": [-41.667, 155.119], "nice": false, "zero": false}, "axis": null}, "y": {"datum": 2.33, "type": "quantitative", "scale": {"domain": [-16.667, 104], "nice": false, "zero": false}, "axis": null}}}
]
},
{
"width": 1653, "height": 292,
"data": {"values": [{}]},
"layer": [
{"mark": {"type": "text", "text": "Рисунок 1.2.1 Примеры диаграмм, зафиксированные при плохой технической", "font": "Liberation Serif", "fontSize": 40, "align": "left", "baseline": "alphabetic", "color": "black"},
 "encoding": {"x": {"datum": 10.95, "type": "quantitative", "scale": {"domain": [0, 100], "nice": false, "zero": false}, "axis": null}, "y": {"datum": 73.29, "type": "quantitative", "scale": {"domain": [0, 100], "nice": false, "zero": false}, "axis": null}}},
{"mark": {"type": "text", "text": "подготовке скважинных манометров.", "font": "Liberation Serif", "fontSize": 40, "align": "left", "baseline": "alphabetic", "color": "black"},
 "encoding": {"x": {"datum": 21.15, "type": "quantitative", "scale": {"domain": [0, 100], "nice": false, "zero": false}, "axis": null}, "y": {"datum": 58.22, "type": "quantitative", "scale": {"domain": [0, 100], "nice": false, "zero": false}, "axis": null}}},
{"mark": {"type": "text", "text": "96", "font": "Liberation Serif", "fontWeight": "bold", "fontSize": 28.5, "align": "left", "baseline": "alphabetic", "color": "black"},
 "encoding": {"x": {"datum": 11.55, "type": "quantitative", "scale": {"domain": [0, 100], "nice": false, "zero": false}, "axis": null}, "y": {"datum": 29.11, "type": "quantitative", "scale": {"domain": [0, 100], "nice": false, "zero": false}, "axis": null}}}
]
}
]
}
